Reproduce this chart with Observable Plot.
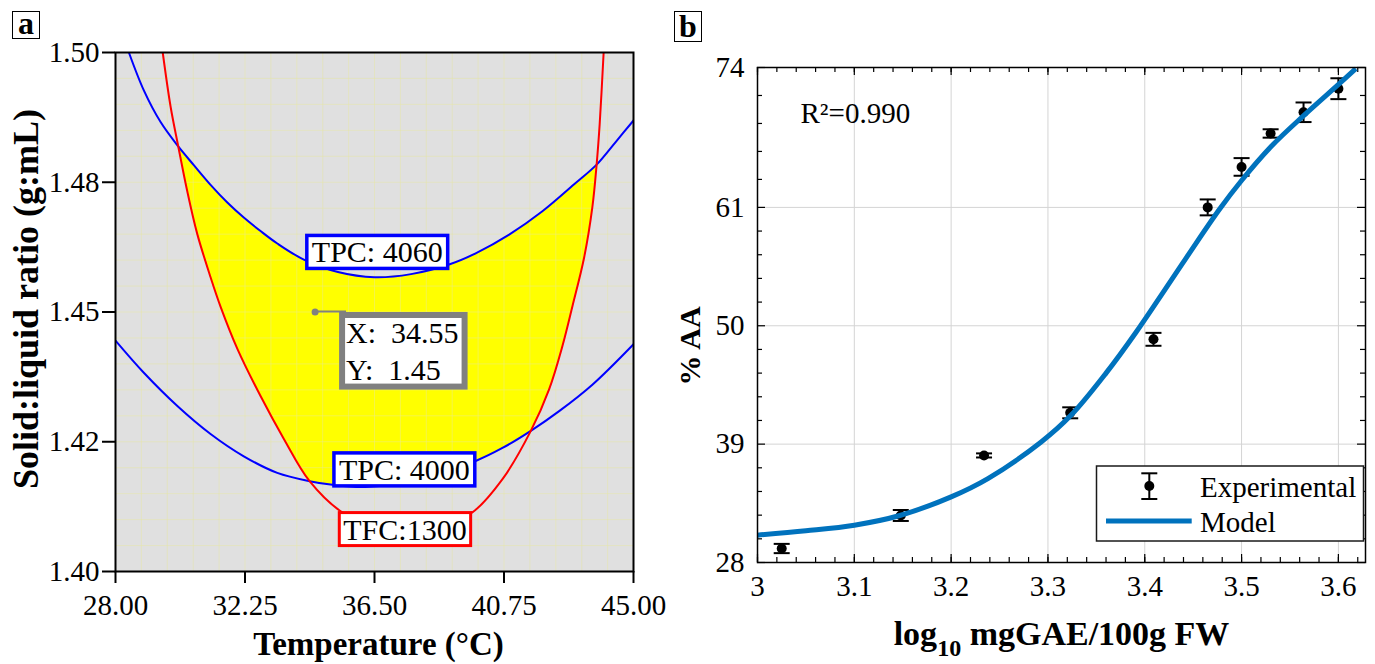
<!DOCTYPE html>
<html><head><meta charset="utf-8">
<script src="https://cdn.jsdelivr.net/npm/d3@7"></script>
<script src="https://cdn.jsdelivr.net/npm/@observablehq/plot@0.6"></script>
<style>
html,body{margin:0;padding:0;background:#fff;}
#wrap{position:relative;width:1375px;height:664px;overflow:hidden;font-family:"Liberation Serif","Times New Roman",serif;background:#fff;}
.panel{position:absolute;top:0;overflow:visible;}
.panel svg{overflow:visible;}
.plabel{position:absolute;border:1.5px solid #000;box-sizing:border-box;font-weight:bold;font-size:32px;text-align:center;color:#000;background:#fff;}
</style></head>
<body><div id="wrap">
<div id="pa" class="panel" style="left:0;width:660px;height:664px"></div>
<div id="pb" class="panel" style="left:660px;width:715px;height:664px"></div>
<div class="plabel" style="left:12px;top:11px;width:28px;height:28px;line-height:22px;">a</div>
<div class="plabel" style="left:674px;top:11px;width:28px;height:31px;line-height:29px;">b</div>
<div id="legend" style="position:absolute;left:1090px;top:460px;width:280px;height:90px;"></div>
</div>
<script>
// ---------- Panel a data ----------
const tpc4060 = [[28.44,1.5000],[28.93,1.4927],[29.48,1.4866],[30.06,1.4819],[30.57,1.4783],[31.12,1.4745],[31.67,1.4711],[32.21,1.4682],[32.76,1.4656],[33.31,1.4632],[34.18,1.4601],[35.3,1.4577],[36.5,1.4567],[37.7,1.4573],[38.97,1.4592],[39.82,1.4613],[40.92,1.4649],[42.01,1.4694],[43.11,1.4749],[43.79,1.4784],[44.42,1.4828],[45.0,1.4869]];
const tpc4000 = [[28.0,1.4445],[28.93,1.4383],[30.03,1.4319],[31.12,1.4265],[32.21,1.4222],[33.31,1.4190],[34.37,1.4174],[35.12,1.4167],[36.2,1.4163],[38.0,1.4177],[39.82,1.4213],[40.70,1.4238],[41.63,1.4271],[42.56,1.4309],[43.65,1.4360],[45.0,1.4438]];
const tfc1300 = [[29.55,1.5000],[29.81,1.4895],[30.06,1.4819],[30.35,1.4734],[30.68,1.4651],[31.12,1.4567],[31.45,1.4510],[32.0,1.4429],[32.76,1.4338],[33.53,1.4255],[34.37,1.4174],[35.39,1.4116],[36.5,1.4085],[37.5,1.4078],[38.6,1.4088],[39.71,1.4114],[40.70,1.4178],[41.63,1.4271],[42.23,1.4351],[42.67,1.4435],[43.0,1.4512],[43.38,1.4605],[43.65,1.4702],[43.79,1.4784],[43.89,1.4862],[44.02,1.5000]];
const crossT = [30.06, 34.37, 41.63, 43.79]; // curve crossings bounding the feasible region
const contourLabels = ["TPC: 4060", "TPC: 4000", "TFC:1300"];
const labelT = [36.59, 37.48, 37.50];
const labelS = [1.4614, 1.4195, 1.4080];
const tipPoint = [{t: 34.55, s: 1.45}];
const xTicksA = [28, 32.25, 36.5, 40.75, 45];
const xLabelsA = ["28.00", "32.25", "36.50", "40.75", "45.00"];
const yTicksA = [1.40, 1.425, 1.45, 1.475, 1.50];
const yLabelsA = ["1.40", "1.42", "1.45", "1.48", "1.50"];

// ---------- Panel b data ----------
const logTPC = [3.025, 3.148, 3.234, 3.323, 3.409, 3.465, 3.500, 3.530, 3.564, 3.600];
const aaMean = [29.30, 32.37, 37.95, 41.91, 48.74, 61.00, 64.76, 67.87, 69.84, 72.03];
const aaErr  = [0.43, 0.51, 0.19, 0.51, 0.60, 0.74, 0.82, 0.39, 0.91, 0.97];
const modelX = [3.0, 3.05, 3.1, 3.147, 3.2, 3.238, 3.293, 3.324, 3.36, 3.391, 3.442, 3.477, 3.5, 3.531, 3.565, 3.601, 3.618];
const modelY = [30.54, 30.95, 31.47, 32.37, 34.1, 35.8, 39.2, 41.7, 45.6, 49.4, 56.2, 60.8, 63.5, 66.7, 69.6, 72.5, 73.9];
const xTicksB = [3.0, 3.1, 3.2, 3.3, 3.4, 3.5, 3.6];
const xLabelsB = ["3", "3.1", "3.2", "3.3", "3.4", "3.5", "3.6"];
const yTicksB = [28, 39, 50, 61, 74];
const yLabelsB = ["28", "39", "50", "61", "74"];
const yMinorB = [30.2,32.4,34.6,36.8,41.2,43.4,45.6,47.8,52.2,54.4,56.6,58.8,63.6,66.2,68.8,71.4];
const xMinorB = d3.range(0, 32).map(i => 3 + i * 0.02);

// ---------- Panel a ----------
const inR = (p, a, b) => p[0] >= a - 1e-9 && p[0] <= b + 1e-9;
const poly = [
  ...tpc4060.filter(p => inR(p, crossT[0], crossT[3])),
  ...tfc1300.filter(p => inR(p, crossT[2], crossT[3])).reverse(),
  ...tpc4000.filter(p => inR(p, crossT[1], crossT[2])).reverse(),
  ...tfc1300.filter(p => inR(p, crossT[0], crossT[1])).reverse()
];
const labelsData = contourLabels.map((l, i) => ({l, t: labelT[i], s: labelS[i]}));
const gridXA = d3.range(1, 20).map(i => 28 + i * 0.85);
const gridYA = d3.range(1, 20).map(i => 1.40 + i * 0.005);
const px = d => d[0], py = d => d[1];
const baseStyle = {fontFamily: "Liberation Serif", fontSize: "29px", color: "black", background: "transparent", overflow: "visible"};

const plotA = Plot.plot({
  width: 660, height: 664,
  marginLeft: 115, marginRight: 27, marginTop: 52, marginBottom: 93,
  x: {domain: [28, 45]},
  y: {domain: [1.40, 1.50]},
  style: baseStyle,
  marks: [
    Plot.frame({fill: "#e0e0e0", stroke: "none"}),
    Plot.line(poly, {x: px, y: py, fill: "#ffff00", stroke: "none", curve: "linear"}),
    Plot.gridX(gridXA, {stroke: "#e6e6a0", strokeOpacity: 0.45, strokeWidth: 1}),
    Plot.gridY(gridYA, {stroke: "#e6e6a0", strokeOpacity: 0.45, strokeWidth: 1}),
    Plot.line(tpc4060, {x: px, y: py, stroke: "#0000ff", strokeWidth: 2, curve: "catmull-rom", clip: true}),
    Plot.line(tpc4000, {x: px, y: py, stroke: "#0000ff", strokeWidth: 2, curve: "catmull-rom", clip: true}),
    Plot.line(tfc1300, {x: px, y: py, stroke: "#ff0000", strokeWidth: 2, curve: "catmull-rom", clip: true}),
    Plot.text(labelsData, {x: "t", y: "s", text: "l", fontSize: 30, fill: "black"}),
    Plot.dot(tipPoint, {x: "t", y: "s", r: 3.5, fill: "#808080", stroke: "none"}),
    Plot.text(tipPoint, {x: "t", y: "s", text: d => "X:\u00a0\u00a0" + d.t.toFixed(2) + "\nY:\u00a0\u00a0" + d.s.toFixed(2),
      textAnchor: "start", lineAnchor: "top", dx: 31, dy: 5, lineHeight: 1.22, fontSize: 30, fill: "black"}),
    Plot.frame({stroke: "black", strokeWidth: 2}),
    Plot.axisX({ticks: xTicksA, tickFormat: d => xLabelsA[xTicksA.indexOf(d)], tickSize: 12, tickPadding: 11, strokeWidth: 2, label: null}),
    Plot.axisY({ticks: yTicksA, tickFormat: d => yLabelsA[yTicksA.indexOf(d)], tickSize: 13, tickPadding: 3, strokeWidth: 2, label: null}),
    Plot.text(["Temperature (°C)"], {text: d => d, frameAnchor: "bottom", dx: 4, dy: 83, textAnchor: "middle", lineAnchor: "bottom", fontWeight: "bold", fontSize: 33}),
    Plot.text(["Solid:liquid ratio (g:mL)"], {text: d => d, frameAnchor: "left", rotate: -90, dx: -78, dy: -13, textAnchor: "middle", lineAnchor: "bottom", fontWeight: "bold", fontSize: 36})
  ]
});
document.getElementById("pa").appendChild(plotA);

// ---------- Panel b ----------
const exp = logTPC.map((x, i) => ({x, y: aaMean[i], e: aaErr[i]}));
const model = modelX.map((x, i) => ({x, y: modelY[i]}));
const capSymbol = {draw(ctx, size) { const w = Math.sqrt(size / Math.PI); ctx.moveTo(-w, 0); ctx.lineTo(w, 0); }};
const FH = 664 - 67 - 102, FW = 715 - 97 - 10;

const plotB = Plot.plot({
  width: 715, height: 664,
  marginLeft: 97, marginRight: 10, marginTop: 67, marginBottom: 102,
  x: {domain: [3.0, 3.628]},
  y: {domain: [28, 74]},
  style: baseStyle,
  marks: [
    Plot.gridX(xTicksB.slice(1), {stroke: "#d4d4d4", strokeOpacity: 1, strokeWidth: 1}),
    Plot.gridY(yTicksB.slice(1, -1), {stroke: "#d4d4d4", strokeOpacity: 1, strokeWidth: 1}),
    Plot.tickX(xMinorB, {x: d => d, insetTop: FH - 5, strokeWidth: 1.2}),
    Plot.tickX(xMinorB, {x: d => d, insetBottom: FH - 5, strokeWidth: 1.2}),
    Plot.tickX(xTicksB, {x: d => d, insetTop: FH - 8, strokeWidth: 1.2}),
    Plot.tickX(xTicksB, {x: d => d, insetBottom: FH - 8, strokeWidth: 1.2}),
    Plot.tickY(yMinorB, {y: d => d, insetRight: FW - 5, strokeWidth: 1.2}),
    Plot.tickY(yMinorB, {y: d => d, insetLeft: FW - 5, strokeWidth: 1.2}),
    Plot.tickY(yTicksB, {y: d => d, insetRight: FW - 8, strokeWidth: 1.2}),
    Plot.tickY(yTicksB, {y: d => d, insetLeft: FW - 8, strokeWidth: 1.2}),
    Plot.ruleX(exp, {x: "x", y1: d => d.y - d.e, y2: d => d.y + d.e, stroke: "black", strokeWidth: 2}),
    Plot.dot(exp, {x: "x", y: d => d.y - d.e, symbol: capSymbol, r: 8, stroke: "black", strokeWidth: 2, fill: "none"}),
    Plot.dot(exp, {x: "x", y: d => d.y + d.e, symbol: capSymbol, r: 8, stroke: "black", strokeWidth: 2, fill: "none"}),
    Plot.dot(exp, {x: "x", y: "y", r: 5, fill: "black", stroke: "none"}),
    Plot.line(model, {x: "x", y: "y", stroke: "#0072BD", strokeWidth: 5, curve: "catmull-rom", strokeLinecap: "butt"}),
    Plot.frame({stroke: "black", strokeWidth: 1.5}),
    Plot.axisX({ticks: xTicksB, tickFormat: d => xLabelsB[xTicksB.indexOf(d)], tickSize: 0, tickPadding: 13, label: null}),
    Plot.axisY({ticks: yTicksB, tickFormat: d => yLabelsB[yTicksB.indexOf(d)], tickSize: 0, tickPadding: 13, label: null}),
    Plot.text(["R²=0.990"], {text: d => d, frameAnchor: "top-left", dx: 43, dy: 55, textAnchor: "start", lineAnchor: "bottom", fontSize: 29}),
    Plot.text(["% AA"], {text: d => d, frameAnchor: "left", rotate: -90, dx: -58, dy: 31, textAnchor: "middle", lineAnchor: "bottom", fontWeight: "bold", fontSize: 30}),
    Plot.text(["log10 mgGAE/100g FW"], {text: d => d, frameAnchor: "bottom", dy: 82, textAnchor: "middle", lineAnchor: "bottom", fontWeight: "bold", fontSize: 34})
  ]
});
document.getElementById("pb").appendChild(plotB);

// ---------- post-processing: label boxes, subscript ----------
const NS = "http://www.w3.org/2000/svg";
function boxText(svg, match, o) {
  const out = [];
  svg.querySelectorAll("text").forEach(t => {
    if (!match(t.textContent)) return;
    const b = t.getBBox();
    const r = document.createElementNS(NS, "rect");
    r.setAttribute("x", b.x - o.l);
    r.setAttribute("y", b.y - o.t);
    r.setAttribute("width", b.width + o.l + o.r);
    r.setAttribute("height", b.height + o.t + o.b);
    r.setAttribute("fill", "white");
    r.setAttribute("stroke", o.stroke);
    r.setAttribute("stroke-width", o.sw);
    const tr = t.getAttribute("transform");
    if (tr) r.setAttribute("transform", tr);
    t.parentNode.insertBefore(r, t);
    out.push(r);
  });
  return out;
}
boxText(plotA, s => s === "TPC: 4060" || s === "TPC: 4000", {l: 5, r: 5, t: 0, b: 0, stroke: "#0000ff", sw: 3.5});
boxText(plotA, s => s === "TFC:1300", {l: 4, r: 4, t: 0, b: 0, stroke: "#ff0000", sw: 3});
const tipRects = boxText(plotA, s => s.startsWith("X:"), {l: 4, r: 6, t: 1, b: 1, stroke: "#808080", sw: 6});
if (tipRects.length) {
  const r = tipRects[0];
  const sb = plotA.getBoundingClientRect(), rb = r.getBoundingClientRect();
  const cx = plotA.scale("x").apply(tipPoint[0].t), cy = plotA.scale("y").apply(tipPoint[0].s);
  const ln = document.createElementNS(NS, "line");
  ln.setAttribute("x1", cx); ln.setAttribute("y1", cy);
  ln.setAttribute("x2", rb.left - sb.left + 4); ln.setAttribute("y2", cy);
  ln.setAttribute("stroke", "#808080"); ln.setAttribute("stroke-width", 2);
  const g = r.parentNode;
  g.parentNode.insertBefore(ln, g);
}
plotB.querySelectorAll("text").forEach(t => {
  if (t.textContent === "log10 mgGAE/100g FW") {
    t.textContent = "";
    const a = document.createElementNS(NS, "tspan"); a.textContent = "log";
    const s = document.createElementNS(NS, "tspan"); s.textContent = "10"; s.setAttribute("font-size", "24"); s.setAttribute("dy", "11");
    const c = document.createElementNS(NS, "tspan"); c.textContent = "\u00a0mgGAE/100g FW"; c.setAttribute("dy", "-11");
    t.append(a, s, c);
  }
});

// ---------- legend (inside panel b) ----------
const lg = d3.select("#legend").append("svg").attr("width", 280).attr("height", 90)
  .style("font-family", "Liberation Serif").style("overflow", "visible");
lg.append("rect").attr("x", 6.5).attr("y", 6).attr("width", 267).attr("height", 75)
  .attr("fill", "white").attr("stroke", "#1a1a1a").attr("stroke-width", 1.5);
lg.append("line").attr("x1", 59.3).attr("x2", 59.3).attr("y1", 13.3).attr("y2", 39).attr("stroke", "black").attr("stroke-width", 2);
lg.append("line").attr("x1", 51.3).attr("x2", 67.3).attr("y1", 13.3).attr("y2", 13.3).attr("stroke", "black").attr("stroke-width", 2);
lg.append("line").attr("x1", 51.3).attr("x2", 67.3).attr("y1", 39).attr("y2", 39).attr("stroke", "black").attr("stroke-width", 2);
lg.append("circle").attr("cx", 59.3).attr("cy", 26).attr("r", 5).attr("fill", "black");
lg.append("text").attr("x", 110).attr("y", 36.7).attr("font-size", 29).text("Experimental");
lg.append("line").attr("x1", 16).attr("x2", 101.7).attr("y1", 61).attr("y2", 61).attr("stroke", "#0072BD").attr("stroke-width", 5);
lg.append("text").attr("x", 110).attr("y", 71.7).attr("font-size", 29).text("Model");
</script>
</body></html>
